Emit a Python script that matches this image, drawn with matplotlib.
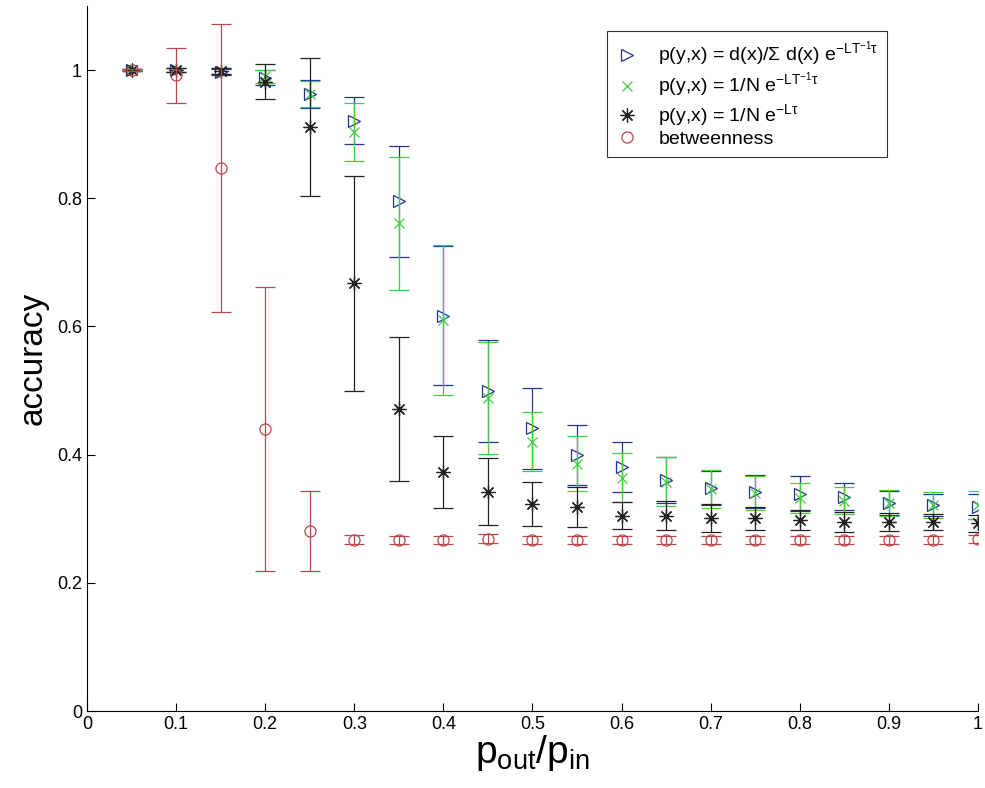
import matplotlib
matplotlib.use('Agg')
import matplotlib.pyplot as plt

plt.rcParams['font.family'] = ['Liberation Sans', 'DejaVu Sans']
plt.rcParams['mathtext.fontset'] = 'custom'
plt.rcParams['mathtext.rm'] = 'Liberation Sans'
plt.rcParams['mathtext.it'] = 'Liberation Sans'

p_ratio = [0.05, 0.1, 0.15, 0.2, 0.25, 0.3, 0.35, 0.4, 0.45, 0.5,
           0.55, 0.6, 0.65, 0.7, 0.75, 0.8, 0.85, 0.9, 0.95, 1.0]

# d(x)/sum d(x) e^{-LT^-1 tau}
acc_deg = [1.0, 1.0, 0.997, 0.988, 0.962, 0.921, 0.795, 0.617, 0.499, 0.441,
           0.399, 0.381, 0.361, 0.348, 0.342, 0.339, 0.334, 0.325, 0.321, 0.319]
err_deg = [0.002, 0.003, 0.005, 0.012, 0.022, 0.037, 0.087, 0.108, 0.080, 0.063,
           0.047, 0.039, 0.036, 0.027, 0.026, 0.027, 0.021, 0.019, 0.017, 0.02]

# 1/N e^{-LT^-1 tau}
acc_lt = [1.0, 1.0, 0.998, 0.99, 0.963, 0.903, 0.761, 0.61, 0.488, 0.42,
          0.386, 0.364, 0.358, 0.346, 0.34, 0.332, 0.328, 0.325, 0.321, 0.322]
err_lt = [0.002, 0.003, 0.005, 0.01, 0.02, 0.045, 0.104, 0.117, 0.087, 0.046,
          0.043, 0.038, 0.038, 0.03, 0.026, 0.023, 0.021, 0.02, 0.02, 0.022]

# 1/N e^{-L tau}
acc_l = [1.0, 1.0, 0.998, 0.982, 0.911, 0.667, 0.471, 0.373, 0.342, 0.323,
         0.318, 0.305, 0.305, 0.301, 0.301, 0.298, 0.295, 0.295, 0.295, 0.293]
err_l = [0.002, 0.003, 0.005, 0.027, 0.107, 0.167, 0.112, 0.056, 0.052, 0.034,
         0.031, 0.021, 0.022, 0.022, 0.018, 0.015, 0.015, 0.014, 0.013, 0.013]

# betweenness
acc_btw = [1.0, 0.992, 0.847, 0.44, 0.281, 0.267, 0.267, 0.267, 0.269, 0.267,
           0.267, 0.267, 0.267, 0.267, 0.267, 0.267, 0.267, 0.267, 0.267, 0.268]
err_btw = [0.002, 0.043, 0.224, 0.221, 0.062, 0.007, 0.006, 0.006, 0.007, 0.006,
           0.006, 0.006, 0.006, 0.006, 0.006, 0.006, 0.006, 0.006, 0.006, 0.006]

labels = [r'p(y,x) = d(x)/$\Sigma$ d(x) e$^{\mathregular{-LT^{-1}}\tau}$',
          r'p(y,x) = 1/N e$^{\mathregular{-LT^{-1}}\tau}$',
          r'p(y,x) = 1/N e$^{\mathregular{-L}\tau}$',
          'betweenness']

fig = plt.figure(figsize=(9.85, 7.88), dpi=100)
ax = fig.add_axes([0.0883, 0.0977, 0.9046, 0.8948])

cap = 7.2
series = [
    (acc_deg, err_deg, '>', '#24348c', 'none', 9),
    (acc_lt, err_lt, 'x', '#3fcf3f', None, 7),
    (acc_l, err_l, (8, 2, 0), '#222222', None, 10),
    (acc_btw, err_btw, 'o', '#b8474a', 'none', 8),
]
handles = []
for (acc, err, mk, col, mfc, ms), lab in zip(series, labels):
    kw = {}
    if mfc is not None:
        kw['mfc'] = mfc
    ax.errorbar(p_ratio, acc, yerr=err, fmt='none', ecolor=col,
                elinewidth=0.9, capsize=cap, capthick=0.9)
    ln, = ax.plot(p_ratio, acc, linestyle='none', marker=mk, color=col,
                  ms=ms, mew=0.9, label=lab, **kw)
    handles.append(ln)

ax.set_xlim(0, 1)
ax.set_ylim(0, 1.1)
ax.set_xticks([0, 0.1, 0.2, 0.3, 0.4, 0.5, 0.6, 0.7, 0.8, 0.9, 1])
ax.set_xticklabels(['0', '0.1', '0.2', '0.3', '0.4', '0.5', '0.6', '0.7', '0.8', '0.9', '1'])
ax.set_yticks([0, 0.2, 0.4, 0.6, 0.8, 1])
ax.set_yticklabels(['0', '0.2', '0.4', '0.6', '0.8', '1'])
ax.tick_params(direction='in', length=6, labelsize=13, width=0.8)
ax.spines['top'].set_visible(False)
ax.spines['right'].set_visible(False)

ax.set_ylabel('accuracy', fontsize=24, labelpad=6)
ax.set_xlabel(r'$\mathregular{p_{out}/p_{in}}$', fontsize=28, labelpad=0)

leg = ax.legend(handles=handles, labels=labels, loc='upper left',
                bbox_to_anchor=(0.616, 0.961), bbox_transform=fig.transFigure,
                borderaxespad=0, fontsize=14, frameon=True, fancybox=False,
                edgecolor='black', handlelength=1.2, handletextpad=1.0,
                labelspacing=0.1, borderpad=0.45)
leg.get_frame().set_linewidth(0.8)

plt.savefig('out.png', dpi=100)
